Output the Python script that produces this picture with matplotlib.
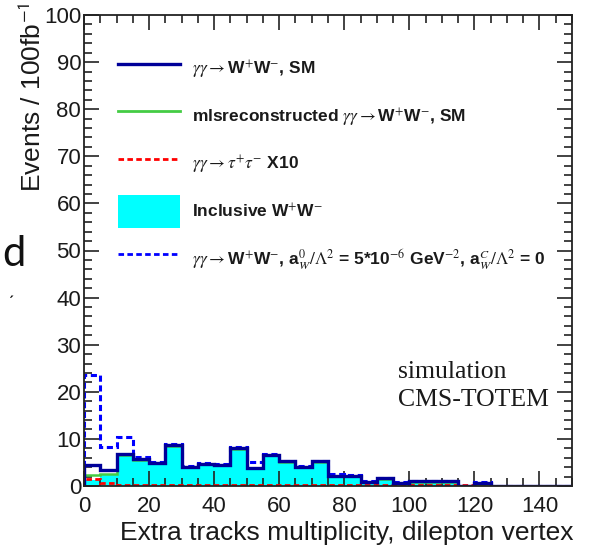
import numpy as np
import matplotlib
matplotlib.use("Agg")
import matplotlib.pyplot as plt
from matplotlib.lines import Line2D
from matplotlib.patches import Patch
from matplotlib.ticker import MultipleLocator

plt.rcParams['font.family'] = ['Liberation Sans', 'DejaVu Sans']
plt.rcParams['mathtext.fontset'] = 'stix'

# bin edges (5 tracks per bin, 0..150)
edges = np.arange(0, 155, 5)

sm_ww = [4.4, 3.5, 6.7, 5.8, 4.9, 8.6, 4.1, 4.7, 4.5, 8.0, 3.9, 6.6, 5.3, 4.1, 5.3,
         2.2, 2.2, 0.9, 1.6, 0.7, 1.0, 1.0, 1.0, 0.0, 0.7, 0, 0, 0, 0, 0]
misreco_ww = [2.3, 2.6, 6.5, 5.5, 4.8, 8.5, 4.0, 4.6, 4.4, 7.8, 3.8, 6.5, 5.2, 4.0, 5.2,
              2.1, 2.1, 0.8, 1.5, 0.6, 0.9, 0.9, 0.9, 0.0, 0.0, 0, 0, 0, 0, 0]
tautau_x10 = [1.5, 0.6, 0.2, 0.2, 0.2, 0.2, 0.2, 0.2, 0.2, 0.2, 0.2, 0.2, 0.2, 0.2, 0.2,
              0.2, 0.2, 0.2, 0.2, 0.2, 0.2, 0.2, 0.2, 0.2, 0.2, 0, 0, 0, 0, 0]
inclusive_ww = [1.2, 2.5, 6.4, 5.4, 4.7, 8.4, 4.0, 4.5, 4.3, 7.7, 3.8, 6.4, 5.1, 4.0, 5.1,
                2.0, 2.0, 0.8, 1.5, 0.6, 0.8, 0.8, 0.8, 0.0, 0.0, 0, 0, 0, 0, 0]
anom_ww = [23.5, 8.3, 10.3, 6.1, 5.2, 8.9, 4.3, 4.9, 4.7, 8.2, 5.2, 6.9, 5.4, 4.2, 5.4,
           2.6, 2.4, 1.0, 1.7, 0.8, 1.0, 1.0, 1.0, 0.0, 0.8, 0, 0, 0, 0, 0]

labels = [
    r'$\gamma\gamma\rightarrow$W$^{+}$W$^{-}$, SM',
    r'mlsreconstructed $\gamma\gamma\rightarrow$W$^{+}$W$^{-}$, SM',
    r'$\gamma\gamma\rightarrow\tau^{+}\tau^{-}$ X10',
    r'Inclusive W$^{+}$W$^{-}$',
    r'$\gamma\gamma\rightarrow$W$^{+}$W$^{-}$, a$^{0}_{W}/\Lambda^{2}$ = 5*10$^{-6}$ GeV$^{-2}$, a$^{C}_{W}/\Lambda^{2}$ = 0',
]

navy = '#000099'
cyan = '#00ffff'
green = '#44cc44'
red = '#ff0000'
blue = '#0000ff'

W, H = 590, 547
fig = plt.figure(figsize=(W / 100, H / 100), dpi=100)
ax = fig.add_axes([84 / W, 1 - 486 / H, (572 - 84) / W, (486 - 15) / H])

ax.stairs(inclusive_ww, edges, fill=True, color=cyan, zorder=1)
ax.stairs(tautau_x10, edges, color=red, lw=2.0, ls=(0, (2, 1.2)), zorder=2)
ax.stairs(misreco_ww, edges, color=green, lw=1.8, zorder=2)
ax.stairs(anom_ww, edges, color=blue, lw=2.2, ls=(0, (2, 1.2)), zorder=2)
ax.stairs(sm_ww, edges, color=navy, lw=2.4, zorder=3)

ax.set_xlim(0, 150)
ax.set_ylim(0, 100)

ax.xaxis.set_major_locator(MultipleLocator(20))
ax.xaxis.set_minor_locator(MultipleLocator(5))
ax.yaxis.set_major_locator(MultipleLocator(10))
ax.yaxis.set_minor_locator(MultipleLocator(2))
ax.tick_params(which='both', direction='in', top=True, right=True, color='#222222',
               width=1.2, labelsize=16, labelcolor='#1a1a1a')
ax.tick_params(which='major', length=11)
ax.tick_params(which='minor', length=6)
ax.tick_params(axis='x', which='major', pad=7)
ax.tick_params(axis='y', which='major', pad=2)
for s in ax.spines.values():
    s.set_linewidth(1.3)
    s.set_color('#222222')
    s.set_zorder(4)

# legend
handles = [
    Line2D([], [], color=navy, lw=2.4),
    Line2D([], [], color=green, lw=2.0),
    Line2D([], [], color=red, lw=2.0, ls=(0, (2, 1.2))),
    Patch(facecolor=cyan, edgecolor='none'),
    Line2D([], [], color=blue, lw=2.0, ls=(0, (2, 1.2))),
]
fs = 12.5
leg = ax.legend(handles, labels, loc='upper left',
                bbox_to_anchor=((118 - 84) / 488, 1 - (53 - 15) / 471),
                frameon=False, prop={'weight': 'bold', 'size': fs},
                handlelength=3.55, handleheight=2.55, labelspacing=0.83,
                handletextpad=0.7, borderpad=0, borderaxespad=0)
for t in leg.get_texts():
    t.set_color('#1a1a1a')

ax.text(0.643, 0.242, 'simulation', transform=ax.transAxes, ha='left', va='center',
        fontsize=18.5, family='Liberation Serif', color='#1a1a1a')
ax.text(0.643, 0.183, 'CMS-TOTEM', transform=ax.transAxes, ha='left', va='center',
        fontsize=18.5, family='Liberation Serif', color='#1a1a1a')

fig.text(574 / W, 1 - 540 / H, 'Extra tracks multiplicity, dilepton vertex',
         ha='right', va='baseline', fontsize=19, color='#1a1a1a')
fig.text(33 / W, 1 - 3 / H, r'Events / 100fb$^{\mathsf{-1}}$', rotation=90,
         ha='center', va='top', fontsize=19, color='#1a1a1a')

# stray slide text at the left edge
fig.text(2 / W, 1 - 254 / H, 'd', ha='left', va='center', fontsize=30,
         family='Lato', color='#111111')
fig.text(8 / W, 1 - 290 / H, '\u02cf', ha='left', va='center', fontsize=14,
         color='#111111')

fig.savefig('out.png', dpi=100)
